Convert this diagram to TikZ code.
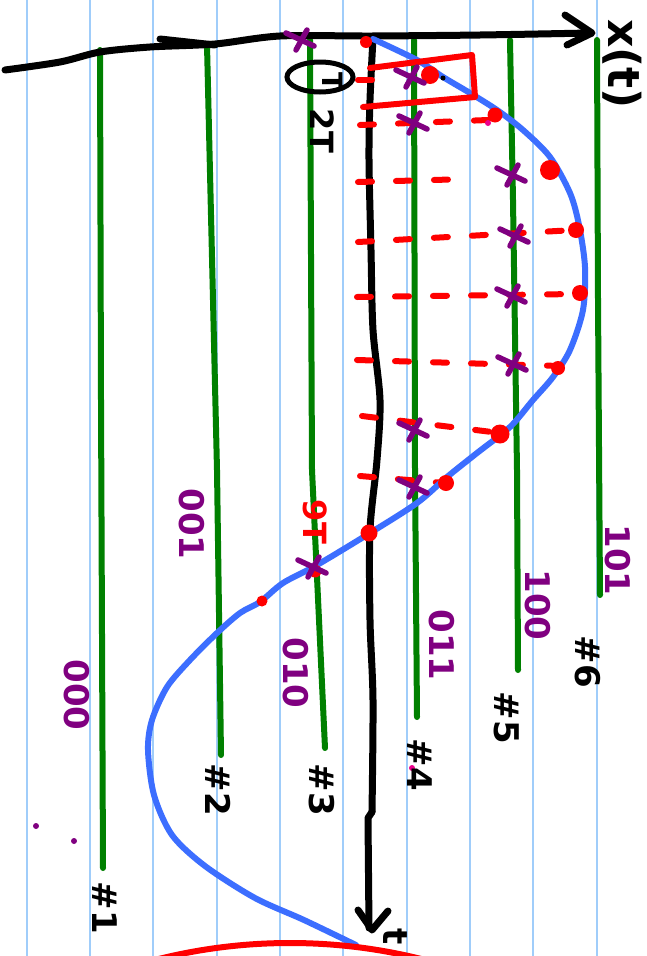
\documentclass[tikz,border=0pt]{standalone}
\usepackage{fontspec}
\setmainfont{DejaVu Sans}
\definecolor{rulingblue}{RGB}{160,205,250}
\definecolor{levelgreen}{RGB}{0,128,0}
\definecolor{sigblue}{RGB}{60,110,255}
\definecolor{qpurple}{RGB}{128,0,128}
\tikzset{
  ruling/.style={draw=rulingblue, line width=2pt},
  axisline/.style={draw=black, line width=7pt, line cap=round, line join=round},
  qlevel/.style={draw=levelgreen, line width=6pt, line cap=round, line join=round},
  sigcurve/.style={draw=sigblue, line width=6pt, line cap=round},
  sampline/.style={draw=red, line width=6pt, line cap=round, dash pattern=on 14pt off 24pt},
  boxline/.style={draw=red, line width=6pt, line cap=round, line join=round},
  qmark/.style={draw=qpurple, line width=5.5pt, line cap=round},
  codelabel/.style={text=qpurple, font=\fontsize{34}{34}\selectfont\bfseries, rotate=-90, inner sep=0pt},
  numlabel/.style={text=black, font=\fontsize{34}{34}\selectfont\bfseries, rotate=-90, inner sep=0pt},
  timelabel/.style={font=\fontsize{32}{32}\selectfont\bfseries, rotate=-90, inner sep=0pt},
}
\newcommand\qmarkat[1]{\draw[qmark] (#1) ++(-14,-7) -- ++(28,13); \draw[qmark] (#1) ++(7,-10) -- ++(-11,20);}
\begin{document}
\begin{tikzpicture}[x=1pt,y=-1pt]
\useasboundingbox (0,0) rectangle (647,956);
\clip (0,0) rectangle (647,956);
\fill[white] (0,0) rectangle (647,956);
% notebook ruling
\foreach \rx in {27,90,153,217,280,343,407,470,533,597}
  \draw[ruling] (\rx,0) -- (\rx,956);
% quantisation levels
\draw[qlevel] (100,50) -- (101,400) -- (103,868);
\draw[qlevel] (207,45) -- (217,470) -- (221,755);
\draw[qlevel] (310,40) -- (312,470) -- (325,748);
\draw[qlevel] (414,40) -- (415,470) -- (417,717);
\draw[qlevel] (510,40) -- (513,200) -- (517,470) -- (518,670);
\draw[qlevel] (597,40) -- (598,300) -- (600,595);
% axes
\draw[axisline] plot[smooth] coordinates {(5,70) (60,62) (100,52) (150,47) (215,44) (280,36) (372,36) (480,35) (590,33)};
\draw[axisline] (160,39) -- (215,45);
\coordinate (xend) at (592,33);
\draw[axisline] (565,15) -- (xend) -- (567,45);
\draw[axisline] plot[smooth] coordinates {(373,38) (370,100) (369,160) (371,250) (373,330) (380,400) (377,460) (370,530) (370,620) (373,700) (372,812)};
\coordinate (tend) at (372,930);
\draw[axisline] (372,812) -- (368,818) -- (369,928);
\draw[axisline] (358,910) -- (tend) -- (388,911);
% sample dashed lines
\draw[sampline] (358,80) -- (380,80);
\draw[sampline] (360,125) -- (488,120);
\draw[sampline] (358,182) -- (470,179);
\draw[sampline] (358,242) -- (575,230);
\draw[sampline] (357,297) -- (576,294);
\draw[sampline] (357,360) -- (560,366);
\draw[sampline] (362,416) -- (500,433);
\draw[sampline] (360,476) -- (445,483);
% signal
\draw[sigcurve] plot[smooth] coordinates {(373,39) (417,60) (443,77) (470,93) (497,110) (523,130) (550,157) (570,193) (579,225) (585,267) (583,310) (570,350) (553,377) (533,400) (510,427) (477,453) (447,477) (417,503) (370,533) (317,565) (283,583) (260,602) (240,613) (217,633) (190,660) (167,687) (152,720) (148,750) (154,795) (172,835) (205,866) (255,898) (304,920) (356,945)};
% red sample dots
\fill[red] (366,42) circle (6pt);
\fill[red] (430,75) circle (9pt);
\fill[red] (495,115) circle (7.5pt);
\fill[red] (550,170) circle (10pt);
\fill[red] (576,230) circle (8pt);
\fill[red] (580,293) circle (8pt);
\fill[red] (558,368) circle (7pt);
\fill[red] (500,434) circle (9.5pt);
\fill[red] (446,483) circle (8pt);
\fill[red] (369,533) circle (8.5pt);
\fill[red] (315,571) circle (6.5pt);
\fill[red] (262,601) circle (5.5pt);
% red bracket box
\draw[boxline] (370,68) -- (472,55) -- (475,97) -- (363,107);
% quantised values
\coordinate (q0) at (300,40);
\coordinate (q1) at (410,77);
\coordinate (q2) at (413,123);
\coordinate (q3) at (511,175);
\coordinate (q4) at (514,236);
\coordinate (q5) at (511,296);
\coordinate (q6) at (512,364);
\coordinate (q7) at (413,430);
\coordinate (q8) at (413,487);
\coordinate (q9) at (312,567);
\foreach \q in {q0,q1,q2,q3,q4,q5,q6,q7,q8,q9} {\qmarkat{\q}}
% small stray dots
\fill[black] (443,78) circle (2.5pt);
\fill[magenta] (488,123) circle (3pt);
\fill[magenta] (412,768) circle (3pt);
\fill[qpurple] (36,826) circle (3pt);
\fill[qpurple] (74,841) circle (3pt);
% big red circle at the bottom
\draw[red, line width=6pt] (290,1485) circle (542pt);
% labels
\node[numlabel, font=\fontsize{44}{44}\selectfont\bfseries] (xlab) at (622,64) {x(t)};
\node[numlabel, font=\fontsize{34}{34}\selectfont\bfseries] (tlab) at (395,937) {t};
\draw[black, line width=5pt] (320,77) ellipse [x radius=33pt, y radius=15pt];
\node[timelabel, font=\fontsize{28}{28}\selectfont\bfseries] (t1) at (333,82) {T};
\node[timelabel] (t2) at (322,131) {2T};
\node[timelabel, text=red] (t9) at (315,522) {9T};
\node[codelabel] (c0) at (77,695) {000};
\node[codelabel] (c1) at (192,524) {001};
\node[codelabel] (c2) at (296,673) {010};
\node[codelabel] (c3) at (442,645) {011};
\node[codelabel] (c4) at (538,605) {100};
\node[codelabel] (c5) at (618,560) {101};
\node[numlabel] (n1) at (105,908) {\#1};
\node[numlabel] (n2) at (218,790) {\#2};
\node[numlabel] (n3) at (322,790) {\#3};
\node[numlabel] (n4) at (420,765) {\#4};
\node[numlabel] (n5) at (507,718) {\#5};
\node[numlabel] (n6) at (588,662) {\#6};
\end{tikzpicture}
\end{document}
